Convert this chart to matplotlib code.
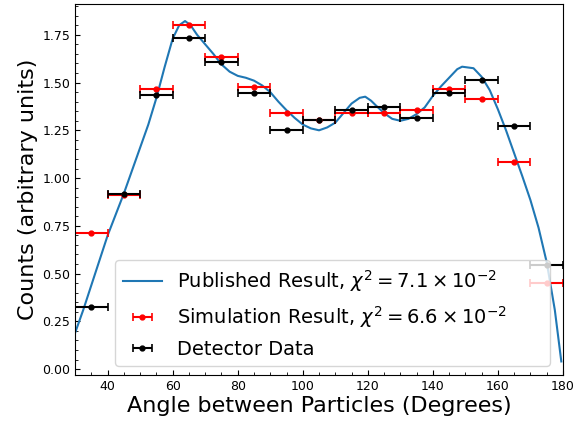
import numpy as np
import matplotlib
matplotlib.use("Agg")
from matplotlib import pyplot as plt
from matplotlib.ticker import MultipleLocator

# bin centres (degrees) and half-widths
angles = [35, 45, 55, 65, 75, 85, 95, 105, 115, 125, 135, 145, 155, 165, 175]
half_width = 5

sim_counts = [0.710, 0.911, 1.464, 1.801, 1.635, 1.476, 1.339, 1.305,
              1.340, 1.342, 1.358, 1.466, 1.414, 1.085, 0.452]
det_counts = [0.323, 0.916, 1.433, 1.735, 1.609, 1.443, 1.253, 1.305,
              1.356, 1.372, 1.313, 1.447, 1.515, 1.274, 0.543]

# published distribution
pub_angle = [30, 32.5, 35, 37.5, 40, 42.5, 45, 47.5, 50, 52.5, 55, 57.5, 60, 62,
             63.8, 65.5, 67.5, 70, 72.5, 75, 77.5, 80, 82.5, 85, 87.5, 90, 92.5,
             95, 97.5, 100, 102.5, 105, 107.5, 110, 112.5, 115, 117.5, 119.2,
             121, 122.5, 125, 127.5, 130, 132.5, 135, 137.5, 140, 142.5, 145,
             147.5, 149, 152.5, 155, 157.5, 160, 162.5, 165, 167.5, 170, 172.5,
             175, 177.5, 179.5]
pub_counts = [0.19, 0.31, 0.44, 0.57, 0.70, 0.81, 0.92, 1.04, 1.16, 1.28, 1.42,
              1.58, 1.73, 1.80, 1.822, 1.80, 1.75, 1.70, 1.65, 1.595, 1.557,
              1.535, 1.525, 1.51, 1.485, 1.45, 1.40, 1.355, 1.315, 1.28, 1.26,
              1.25, 1.265, 1.29, 1.34, 1.39, 1.42, 1.426, 1.405, 1.38, 1.34,
              1.31, 1.30, 1.31, 1.335, 1.37, 1.43, 1.48, 1.525, 1.57, 1.583,
              1.575, 1.53, 1.46, 1.36, 1.25, 1.13, 1.01, 0.885, 0.74, 0.56,
              0.31, 0.04]

fig, ax = plt.subplots(figsize=(5.87, 4.23), dpi=100)
fig.subplots_adjust(left=0.128, right=0.959, top=0.99, bottom=0.113)

ax.plot(pub_angle, pub_counts, color="#1f77b4", lw=1.5,
        label=r"Published Result, $\chi^2 = 7.1 \times 10^{-2}$")

ax.errorbar(angles, sim_counts, xerr=half_width, fmt="o", color="red",
            ms=3.5, elinewidth=1.5, capsize=3, capthick=1.2,
            label=r"Simulation Result, $\chi^2 = 6.6 \times 10^{-2}$")
ax.errorbar(angles, det_counts, xerr=half_width, fmt="o", color="black",
            ms=3.5, elinewidth=1.5, capsize=3, capthick=1.2,
            label="Detector Data")

ax.set_xlim(30, 180)
ax.set_ylim(-0.032, 1.91)

ax.xaxis.set_major_locator(MultipleLocator(20))
ax.xaxis.set_minor_locator(MultipleLocator(5))
ax.yaxis.set_major_locator(MultipleLocator(0.25))
ax.yaxis.set_minor_locator(MultipleLocator(0.05))
ax.tick_params(which="both", direction="in", labelsize=9)

ax.set_xlabel("Angle between Particles (Degrees)", fontsize=16, labelpad=2)
ax.set_ylabel("Counts (arbitrary units)", fontsize=16, labelpad=3)

ax.legend(loc="lower left", bbox_to_anchor=(0.082, 0.024, 0.891, 0.3),
          mode="expand", borderaxespad=0, fontsize=14)

plt.savefig("out.png", dpi=100)
plt.close()
